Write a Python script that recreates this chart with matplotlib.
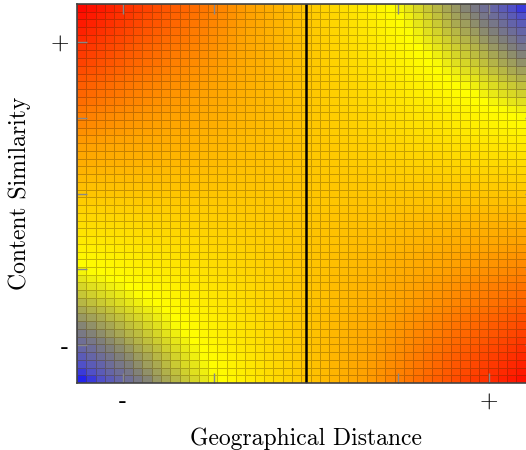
import numpy as np
import matplotlib
matplotlib.use('Agg')
import matplotlib.pyplot as plt
from matplotlib.colors import LinearSegmentedColormap

# surface values at the four corners
# rows: bottom (low similarity), top (high similarity); cols: left, right
corner_values = np.array([[0.0, 1.0],
                          [1.0, 0.0]])
n_cells = 49

x_ticks = [0.1, 0.3, 0.5, 0.7, 0.9]
x_labels = ['-', '', '', '', '+']
y_ticks = [0.1, 0.3, 0.5, 0.7, 0.9]
y_labels = ['-', '', '', '', '+']
divider_x = 0.5

# palette: blue -> grey -> yellow -> orange -> red
cmap = LinearSegmentedColormap.from_list('pal', [
    (0.00, (0.05, 0.05, 1.0)),
    (0.06, (0.32, 0.32, 0.78)),
    (0.15, (0.5, 0.5, 0.48)),
    (0.31, (1.0, 1.0, 0.0)),
    (0.62, (1.0, 0.63, 0.0)),
    (1.00, (1.0, 0.0, 0.0)),
])

edges = np.linspace(0, 1, n_cells + 1)
centers = (edges[:-1] + edges[1:]) / 2
gx, gy = np.meshgrid(centers, centers)
z = (corner_values[0, 0] * (1 - gx) * (1 - gy) + corner_values[0, 1] * gx * (1 - gy)
     + corner_values[1, 0] * (1 - gx) * gy + corner_values[1, 1] * gx * gy)

plt.rcParams['font.family'] = 'cmr10'

fig = plt.figure(figsize=(5.26, 4.5), dpi=100)
ax = fig.add_axes([77 / 526, 67 / 450, 458 / 526, 379 / 450])

ax.pcolormesh(edges, edges, z, cmap=cmap, vmin=0, vmax=1,
              edgecolors=(0.25, 0.15, 0.0, 0.3), linewidth=0.7)
ax.axvline(divider_x, color='black', linewidth=1.8)

ax.set_xlim(0, 1)
ax.set_ylim(0, 1)
ax.set_xticks(x_ticks)
ax.set_xticklabels(x_labels)
ax.set_yticks(y_ticks)
ax.set_yticklabels(y_labels)
ax.tick_params(direction='in', length=7, width=1, color='#888888',
               top=True, right=True, labelsize=17, pad=6)
for s in ax.spines.values():
    s.set_color('#444444')
    s.set_linewidth(1.2)

ax.set_xlabel('Geographical Distance', fontsize=17, labelpad=10)
ax.set_ylabel('Content Similarity', fontsize=17, labelpad=14)

plt.savefig('out.png', dpi=100)
plt.close()
